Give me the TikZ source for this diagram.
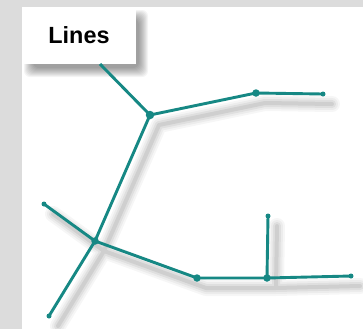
\documentclass[tikz,border=0pt]{standalone}
\usepackage{fontspec}
\setmainfont{Liberation Sans}
\definecolor{lineteal}{RGB}{22,136,132}
\definecolor{panelgray}{RGB}{220,220,220}
\begin{document}
\begin{tikzpicture}[x=1bp,y=-1bp,
  link/.style={draw=lineteal,line width=2.9bp},
  knot/.style={circle,fill=lineteal,inner sep=0pt,minimum size=7.5bp},
  tip/.style={circle,fill=lineteal,inner sep=0pt,minimum size=5bp},
  labelbox/.style={fill=white,minimum width=114bp,minimum height=57bp,
    font=\fontsize{23.5}{28}\selectfont\bfseries}]
% panel
\useasboundingbox (0,0) rectangle (363,329);
\fill[panelgray] (0,0) rectangle (363,329);
\fill[white] (22,7) rectangle (363,329);
% points
\coordinate (stem) at (100,64);
\coordinate (a) at (150,115);
\coordinate (b) at (256,93);
\coordinate (c) at (323,94);
\coordinate (d) at (95,241);
\coordinate (e) at (44,204);
\coordinate (f) at (49,316);
\coordinate (g) at (197,278);
\coordinate (h) at (267,278);
\coordinate (i) at (268,216);
\coordinate (j) at (351,276);
% soft shadows
\foreach \s in {-4,...,5}
  \fill[black,opacity=0.045,rounded corners=6bp] (29-\s,15-\s) rectangle (143+\s,72+\s);
\begin{scope}[transform canvas={xshift=9bp,yshift=-10bp}]
\foreach \w/\op in {16/0.035,12/0.04,8/0.055,4/0.07}
  \draw[black,line width=\w bp,opacity=\op,line cap=round,line join=round]
    (a)--(b)--(c) (a)--(d)--(f) (e)--(d)--(g)--(h)--(j) (h)--(i);
\end{scope}
% title
\node[labelbox] (title) at (79,35.5) {Lines};
% lines
\draw[link] (stem)--(a)--(b)--(c);
\draw[link] (a)--(d)--(f);
\draw[link] (e)--(d)--(g)--(h)--(j);
\draw[link] (h)--(i);
% dots
\node[knot,minimum size=8.5bp] (ka) at (a) {};
\node[knot] (kb) at (b) {};
\node[tip] (kc) at (c) {};
\node[knot] (kd) at (d) {};
\node[tip] (ke) at (e) {};
\node[tip] (kf) at (f) {};
\node[knot] (kg) at (g) {};
\node[knot] (kh) at (h) {};
\node[tip] (ki) at (i) {};
\node[tip] (kj) at (j) {};
\end{tikzpicture}
\end{document}
